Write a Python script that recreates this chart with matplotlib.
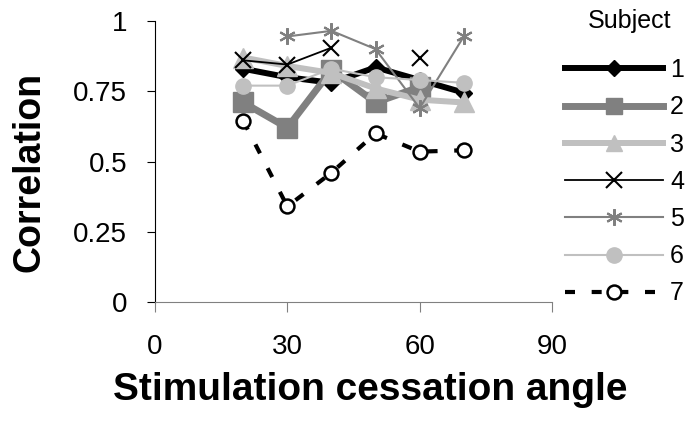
import numpy as np
import matplotlib
matplotlib.use("Agg")
import matplotlib.pyplot as plt

plt.rcParams['font.family'] = ['Liberation Sans', 'DejaVu Sans']

angles = [20, 30, 40, 50, 60, 70]
nan = np.nan
subj1 = [0.83, 0.80, 0.78, 0.835, 0.79, 0.745]
subj2 = [0.71, 0.62, 0.825, 0.71, 0.765, nan]
subj3 = [0.87, 0.84, 0.815, 0.76, 0.72, 0.71]
subj4 = [0.86, 0.845, 0.905, nan, 0.87, nan]
subj5 = [nan, 0.945, 0.965, 0.90, 0.69, 0.945]
subj6 = [0.77, 0.77, 0.83, 0.80, 0.79, 0.78]
subj7 = [0.645, 0.34, 0.46, 0.60, 0.535, 0.54]
labels = ['1', '2', '3', '4', '5', '6', '7']

fig = plt.figure(figsize=(6.87, 4.25), dpi=100)
ax = fig.add_axes([155/687, 1-302/425, 397/687, 281/425])

ax.plot(angles, subj1, color='black', lw=4.3, marker='D', ms=8, label=labels[0])
ax.plot(angles, subj2, color='#808080', lw=5, marker='s', ms=14, label=labels[1])
ax.plot(angles, subj3, color='#c0c0c0', lw=4.3, marker='^', ms=14, label=labels[2])
ax.plot(angles, subj4, color='black', lw=1.3, marker='x', ms=11, mew=1.5, label=labels[3])
ax.plot(angles, subj5, color='#808080', lw=1.5, marker=(6, 2, 0), ms=12, mew=1.5, label=labels[4])
ax.plot(angles, subj6, color='#c0c0c0', lw=1.5, marker='o', ms=11, label=labels[5])
ax.plot(angles, subj7, color='black', lw=3, dashes=(2.4, 4), marker='o', ms=10,
        mfc='white', mec='black', mew=1.8, label=labels[6])

ax.set_xlim(0, 90)
ax.set_ylim(0, 1)
ax.set_xticks([0, 30, 60, 90])
ax.set_yticks([0, 0.25, 0.5, 0.75, 1])
ax.set_yticklabels(['0', '0.25', '0.5', '0.75', '1'])
ax.spines['top'].set_visible(False)
ax.spines['right'].set_visible(False)
ax.spines['bottom'].set_color('#808080')
ax.spines['left'].set_color('black')
ax.tick_params(axis='y', direction='out', length=6, pad=14, labelsize=20)
ax.tick_params(axis='x', direction='out', length=7, pad=16, labelsize=20, color='#808080')

fig.text(30/687, 1-172/425, 'Correlation', rotation=90, fontsize=27, fontweight='bold',
         ha='center', va='center')
fig.text(370/687, 1-390/425, 'Stimulation cessation angle', fontsize=28, fontweight='bold',
         ha='center', va='center')

fig.text(630/687, 1-21/425, 'Subject', fontsize=18, ha='center', va='center')
leg = fig.legend(loc='upper left', bbox_to_anchor=(565/687, 1-58/425), frameon=False,
                 fontsize=18, handlelength=3.9, handletextpad=0.3, labelspacing=0.53,
                 borderpad=0, borderaxespad=0)
for h in leg.legend_handles[1:3]:
    h.set_markersize(11)

fig.savefig('out.png', dpi=100)
